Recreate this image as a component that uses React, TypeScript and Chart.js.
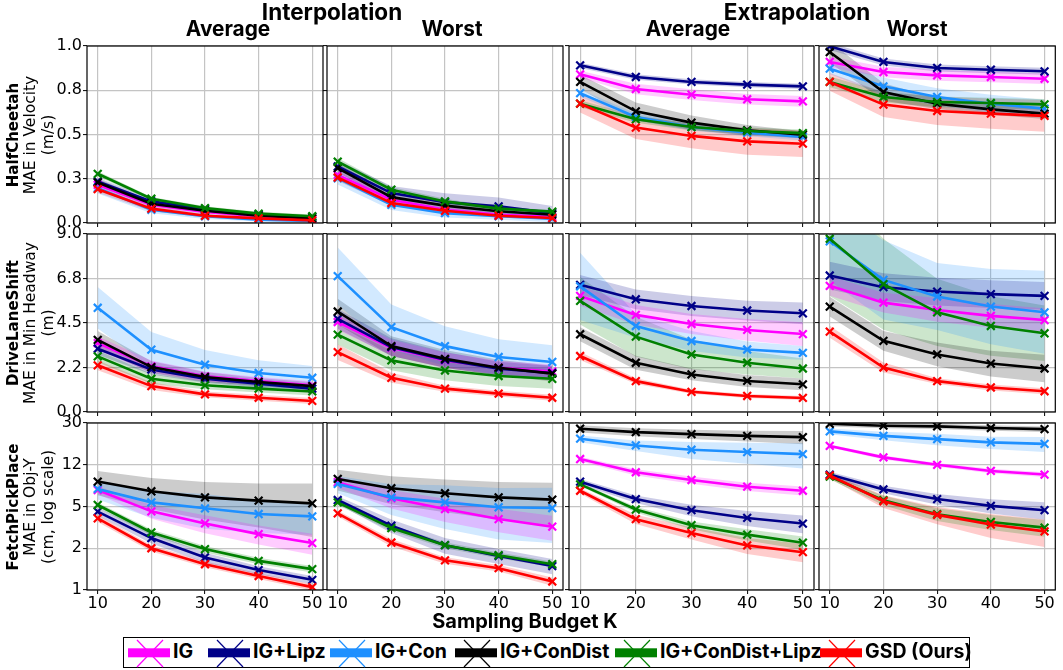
import React, { useEffect, useRef } from "react";
import { Chart, registerables } from "chart.js";

Chart.register(...registerables);

const PAGE_W = 1063;
const PAGE_H = 670;

// ---------- categories / series ----------
const K_VALUES = [10, 20, 30, 40, 50];
const X_TICKS = [10, 20, 30, 40, 50];
const SERIES_NAMES = ["IG", "IG+Lipz", "IG+Con", "IG+ConDist", "IG+ConDist+Lipz", "GSD (Ours)"];
const SERIES_COLORS = ["#ff00ff", "#000088", "#1e90ff", "#000000", "#008000", "#ff0000"];

// ---------- tick labels ----------
const HC_Y_TICKS = [0, 0.25, 0.5, 0.75, 1.0];
const HC_Y_LABELS = ["0.0", "0.3", "0.5", "0.8", "1.0"];
const DLS_Y_TICKS = [0, 2.25, 4.5, 6.75, 9.0];
const DLS_Y_LABELS = ["0.0", "2.2", "4.5", "6.8", "9.0"];
const FPP_Y_TICKS = [1, 2.34, 5.48, 12.82, 30];
const FPP_Y_LABELS = ["1", "2", "5", "12", "30"];

// ---------- HalfCheetah (MAE in velocity) ----------
// series order: IG, IG+Lipz, IG+Con, IG+ConDist, IG+ConDist+Lipz, GSD
const hcIntAvg = [
  [0.216, 0.103, 0.062, 0.038, 0.022],
  [0.235, 0.122, 0.079, 0.047, 0.034],
  [0.197, 0.075, 0.038, 0.019, 0.011],
  [0.229, 0.109, 0.069, 0.041, 0.026],
  [0.278, 0.137, 0.084, 0.053, 0.038],
  [0.191, 0.081, 0.041, 0.026, 0.015],
];
const hcIntAvgBand = [
  [0.02, 0.015, 0.01, 0.01, 0.01],
  [0.02, 0.015, 0.01, 0.01, 0.01],
  [0.03, 0.02, 0.015, 0.01, 0.01],
  [0.02, 0.015, 0.01, 0.01, 0.01],
  [0.015, 0.01, 0.01, 0.01, 0.01],
  [0.02, 0.015, 0.01, 0.01, 0.01],
];
const hcIntWorst = [
  [0.272, 0.131, 0.075, 0.047, 0.034],
  [0.319, 0.169, 0.118, 0.094, 0.056],
  [0.253, 0.103, 0.056, 0.038, 0.024],
  [0.31, 0.146, 0.098, 0.066, 0.047],
  [0.347, 0.188, 0.122, 0.081, 0.064],
  [0.257, 0.113, 0.069, 0.041, 0.028],
];
const hcIntWorstBand = [
  [0.02, 0.02, 0.015, 0.01, 0.01],
  [0.035, 0.04, 0.05, 0.05, 0.04],
  [0.035, 0.03, 0.025, 0.02, 0.02],
  [0.025, 0.02, 0.02, 0.015, 0.015],
  [0.02, 0.015, 0.015, 0.01, 0.01],
  [0.02, 0.015, 0.01, 0.01, 0.01],
];
const hcExtAvg = [
  [0.84, 0.757, 0.725, 0.699, 0.687],
  [0.891, 0.825, 0.797, 0.782, 0.772],
  [0.734, 0.599, 0.542, 0.51, 0.486],
  [0.797, 0.631, 0.567, 0.524, 0.499],
  [0.674, 0.586, 0.542, 0.52, 0.508],
  [0.674, 0.539, 0.492, 0.461, 0.448],
];
const hcExtAvgBand = [
  [0.02, 0.03, 0.03, 0.03, 0.03],
  [0.015, 0.015, 0.015, 0.015, 0.015],
  [0.02, 0.02, 0.02, 0.02, 0.02],
  [0.04, 0.05, 0.04, 0.03, 0.02],
  [0.02, 0.02, 0.02, 0.02, 0.02],
  [0.05, 0.065, 0.07, 0.075, 0.075],
];
const hcExtWorst = [
  [0.91, 0.853, 0.834, 0.825, 0.815],
  [0.998, 0.91, 0.876, 0.866, 0.857],
  [0.872, 0.772, 0.712, 0.674, 0.646],
  [0.966, 0.74, 0.674, 0.642, 0.618],
  [0.797, 0.712, 0.684, 0.678, 0.67],
  [0.797, 0.669, 0.633, 0.618, 0.605],
];
const hcExtWorstBand = [
  [0.03, 0.03, 0.03, 0.03, 0.03],
  [0.02, 0.02, 0.02, 0.02, 0.02],
  [0.03, 0.05, 0.05, 0.05, 0.05],
  [0.06, 0.05, 0.03, 0.03, 0.03],
  [0.03, 0.03, 0.03, 0.03, 0.03],
  [0.05, 0.07, 0.08, 0.085, 0.09],
];

// ---------- DriveLaneShift (MAE in min headway) ----------
const dlsIntAvg = [
  [3.48, 2.31, 1.8, 1.57, 1.35],
  [3.2, 2.15, 1.68, 1.43, 1.18],
  [5.27, 3.15, 2.39, 1.97, 1.73],
  [3.65, 2.27, 1.77, 1.52, 1.31],
  [2.81, 1.68, 1.35, 1.18, 1.04],
  [2.36, 1.31, 0.89, 0.72, 0.56],
];
const dlsIntAvgBand = [
  [0.35, 0.3, 0.25, 0.2, 0.2],
  [0.3, 0.25, 0.2, 0.2, 0.2],
  [1.05, 0.9, 0.75, 0.65, 0.6],
  [0.45, 0.3, 0.25, 0.2, 0.2],
  [0.3, 0.25, 0.2, 0.2, 0.2],
  [0.25, 0.2, 0.15, 0.15, 0.15],
];
const dlsIntWorst = [
  [4.55, 3.25, 2.61, 2.24, 2.05],
  [4.71, 3.28, 2.64, 2.19, 1.97],
  [6.87, 4.29, 3.33, 2.78, 2.53],
  [5.08, 3.33, 2.69, 2.24, 1.94],
  [3.91, 2.61, 2.1, 1.82, 1.68],
  [3.03, 1.73, 1.18, 0.93, 0.72],
];
const dlsIntWorstBand = [
  [0.4, 0.4, 0.4, 0.35, 0.35],
  [0.5, 0.45, 0.4, 0.35, 0.35],
  [1.45, 1.15, 1.0, 0.9, 0.85],
  [0.65, 0.5, 0.45, 0.4, 0.4],
  [0.5, 0.5, 0.5, 0.5, 0.5],
  [0.4, 0.25, 0.15, 0.15, 0.15],
];
const dlsExtAvg = [
  [5.87, 4.91, 4.45, 4.15, 3.94],
  [6.43, 5.7, 5.36, 5.13, 4.99],
  [6.35, 4.35, 3.59, 3.16, 2.99],
  [3.93, 2.49, 1.9, 1.57, 1.4],
  [5.62, 3.81, 2.91, 2.49, 2.2],
  [2.83, 1.56, 1.02, 0.81, 0.71],
];
const dlsExtAvgBand = [
  [0.5, 0.5, 0.5, 0.55, 0.6],
  [0.5, 0.5, 0.5, 0.5, 0.55],
  [1.7, 0.6, 0.5, 0.4, 0.35],
  [0.35, 0.35, 0.3, 0.3, 0.3],
  [1.2, 1.0, 0.75, 0.6, 0.5],
  [0.2, 0.15, 0.1, 0.1, 0.1],
];
const dlsExtWorst = [
  [6.38, 5.53, 5.16, 4.86, 4.65],
  [6.9, 6.31, 6.09, 5.96, 5.87],
  [8.63, 6.68, 5.84, 5.33, 5.04],
  [5.33, 3.6, 2.91, 2.45, 2.2],
  [8.76, 6.46, 5.04, 4.35, 3.98],
  [4.06, 2.25, 1.56, 1.24, 1.05],
];
const dlsExtWorstBand = [
  [0.5, 0.5, 0.6, 0.6, 0.6],
  [0.7, 0.7, 0.7, 0.7, 0.7],
  [2.0, 2.0, 1.7, 1.9, 2.1],
  [0.5, 0.5, 0.6, 0.65, 0.7],
  [2.9, 2.3, 1.7, 1.5, 1.4],
  [0.3, 0.25, 0.15, 0.15, 0.15],
];

// ---------- FetchPickPlace (MAE in Obj-Y, log scale) ----------
const fppIntAvg = [
  [7.67, 4.96, 3.88, 3.12, 2.6],
  [4.93, 2.88, 1.94, 1.5, 1.23],
  [7.83, 5.96, 5.28, 4.7, 4.48],
  [9.1, 7.47, 6.6, 6.17, 5.84],
  [5.65, 3.23, 2.3, 1.81, 1.53],
  [4.3, 2.34, 1.69, 1.33, 1.06],
];
const fppIntAvgBand = [
  [0.6, 0.7, 0.7, 0.6, 0.55],
  [0.4, 0.3, 0.2, 0.12, 0.1],
  [1.5, 1.6, 1.8, 1.5, 1.4],
  [2.2, 2.3, 2.4, 2.6, 2.9],
  [0.3, 0.2, 0.15, 0.12, 0.1],
  [0.3, 0.15, 0.1, 0.08, 0.07],
];
const fppIntWorst = [
  [8.98, 6.47, 5.2, 4.24, 3.63],
  [6.25, 3.7, 2.49, 2.0, 1.63],
  [8.67, 6.6, 5.96, 5.39, 5.31],
  [9.6, 7.94, 7.17, 6.6, 6.3],
  [5.96, 3.53, 2.49, 2.03, 1.69],
  [4.76, 2.63, 1.83, 1.56, 1.19],
];
const fppIntWorstBand = [
  [1.0, 1.2, 1.2, 1.0, 0.9],
  [0.5, 0.5, 0.4, 0.3, 0.25],
  [1.5, 2.0, 2.5, 2.6, 2.7],
  [2.0, 2.2, 2.3, 2.4, 2.6],
  [0.3, 0.2, 0.15, 0.12, 0.1],
  [0.3, 0.2, 0.12, 0.1, 0.1],
];
const fppExtAvg = [
  [14.4, 11.0, 9.4, 8.2, 7.55],
  [9.08, 6.37, 5.08, 4.34, 3.87],
  [21.8, 19.0, 17.4, 16.6, 15.9],
  [26.7, 24.9, 23.9, 23.1, 22.5],
  [8.6, 5.15, 3.74, 3.09, 2.62],
  [7.55, 4.23, 3.19, 2.48, 2.16],
];
const fppExtAvgBand = [
  [0.7, 0.7, 0.7, 0.7, 0.7],
  [0.5, 0.5, 0.6, 0.65, 0.7],
  [1.5, 2.0, 3.0, 3.5, 4.0],
  [2.0, 2.0, 2.2, 2.5, 3.0],
  [0.3, 0.3, 0.3, 0.35, 0.35],
  [0.4, 0.4, 0.4, 0.4, 0.4],
];
const fppExtWorst = [
  [18.8, 14.9, 12.8, 11.3, 10.5],
  [10.5, 7.76, 6.37, 5.55, 5.08],
  [25.3, 23.1, 21.6, 20.2, 19.6],
  [29.5, 28.4, 28.0, 27.1, 26.5],
  [10.06, 6.23, 4.68, 4.0, 3.56],
  [10.3, 6.1, 4.62, 3.79, 3.3],
];
const fppExtWorstBand = [
  [0.6, 0.6, 0.5, 0.5, 0.5],
  [0.6, 0.6, 0.7, 0.8, 0.9],
  [1.5, 2.0, 2.5, 2.5, 3.0],
  [1.5, 1.5, 1.5, 1.5, 1.5],
  [0.5, 0.6, 0.6, 0.6, 0.6],
  [0.6, 0.8, 0.8, 0.9, 0.9],
];

// ---------- layout ----------
const COL_X = [
  [87, 323],
  [327, 563],
  [569, 814],
  [819, 1062],
];
const ROW_Y = [
  [46, 223],
  [234, 412],
  [423, 590],
];
const Y_AXIS_W = 40;
const X_AXIS_H = 30;

type AxisDef = { type: "linear" | "logarithmic"; min: number; max: number; ticks: number[]; labels: string[] };
const ROW_AXES: AxisDef[] = [
  { type: "linear", min: 0, max: 1, ticks: HC_Y_TICKS, labels: HC_Y_LABELS },
  { type: "linear", min: 0, max: 9, ticks: DLS_Y_TICKS, labels: DLS_Y_LABELS },
  { type: "logarithmic", min: 1, max: 30, ticks: FPP_Y_TICKS, labels: FPP_Y_LABELS },
];

const PANELS = [
  { row: 0, col: 0, means: hcIntAvg, bands: hcIntAvgBand },
  { row: 0, col: 1, means: hcIntWorst, bands: hcIntWorstBand },
  { row: 0, col: 2, means: hcExtAvg, bands: hcExtAvgBand },
  { row: 0, col: 3, means: hcExtWorst, bands: hcExtWorstBand },
  { row: 1, col: 0, means: dlsIntAvg, bands: dlsIntAvgBand },
  { row: 1, col: 1, means: dlsIntWorst, bands: dlsIntWorstBand },
  { row: 1, col: 2, means: dlsExtAvg, bands: dlsExtAvgBand },
  { row: 1, col: 3, means: dlsExtWorst, bands: dlsExtWorstBand },
  { row: 2, col: 0, means: fppIntAvg, bands: fppIntAvgBand },
  { row: 2, col: 1, means: fppIntWorst, bands: fppIntWorstBand },
  { row: 2, col: 2, means: fppExtAvg, bands: fppExtAvgBand },
  { row: 2, col: 3, means: fppExtWorst, bands: fppExtWorstBand },
];

const ROW_LABELS = [
  { bold: "HalfCheetah", l1: "MAE in Velocity", l2: "(m/s)" },
  { bold: "DriveLaneShift", l1: "MAE in Min Headway", l2: "(m)" },
  { bold: "FetchPickPlace", l1: "MAE in Obj-Y", l2: "(cm, log scale)" },
];

const GRID_COLOR = "#c4c4c4";
const TICK_FONT = { family: "'DejaVu Sans', sans-serif", size: 16 };

function hexToRgba(hex: string, a: number) {
  const n = parseInt(hex.slice(1), 16);
  return `rgba(${(n >> 16) & 255},${(n >> 8) & 255},${n & 255},${a})`;
}

const framePlugin = {
  id: "frame",
  afterDatasetsDraw(chart: any) {
    const { ctx, chartArea } = chart;
    const { left, top, right, bottom } = chartArea;
    ctx.save();
    ctx.strokeStyle = "#000";
    ctx.lineWidth = 1.2;
    ctx.strokeRect(left, top, right - left, bottom - top);
    ctx.restore();
  },
};

function Panel({ row, col, means, bands }: { row: number; col: number; means: number[][]; bands: number[][] }) {
  const ref = useRef<HTMLCanvasElement>(null);
  useEffect(() => {
    const canvas = ref.current;
    if (!canvas) return;
    const [L, R] = COL_X[col];
    const [T, B] = ROW_Y[row];
    const axis = ROW_AXES[row];
    const datasets: any[] = [];
    means.forEach((m, s) => {
      const c = SERIES_COLORS[s];
      const b = bands[s];
      datasets.push({
        label: SERIES_NAMES[s] + " upper",
        data: K_VALUES.map((k, i) => ({ x: k, y: m[i] + b[i] })),
        borderColor: "rgba(0,0,0,0)",
        borderWidth: 0,
        pointRadius: 0,
        pointHoverRadius: 0,
        backgroundColor: hexToRgba(c, 0.2),
        fill: "+1",
        order: 100 + s,
        clip: 0,
      });
      datasets.push({
        label: SERIES_NAMES[s] + " lower",
        data: K_VALUES.map((k, i) => ({ x: k, y: Math.max(m[i] - b[i], axis.type === "logarithmic" ? 0.05 : -10) })),
        borderColor: "rgba(0,0,0,0)",
        borderWidth: 0,
        pointRadius: 0,
        pointHoverRadius: 0,
        fill: false,
        order: 100 + s,
        clip: 0,
      });
    });
    means.forEach((m, s) => {
      const c = SERIES_COLORS[s];
      datasets.push({
        label: SERIES_NAMES[s],
        data: K_VALUES.map((k, i) => ({ x: k, y: m[i] })),
        borderColor: c,
        backgroundColor: c,
        borderWidth: 2.6,
        pointStyle: "crossRot",
        pointRadius: 5.5,
        pointBorderWidth: 2.2,
        pointBorderColor: c,
        pointBackgroundColor: c,
        fill: false,
        tension: 0,
        order: 10 - s,
        clip: 0,
      });
    });

    const gridOpts = {
      color: GRID_COLOR,
      lineWidth: 1.2,
      drawTicks: true,
      tickLength: 4,
      tickColor: "#000",
      tickWidth: 1,
    };

    const chart = new Chart(canvas, {
      type: "line",
      data: { datasets },
      plugins: [framePlugin],
      options: {
        responsive: false,
        animation: false,
        devicePixelRatio: 1,
        events: [],
        layout: {
          padding: {
            left: L - Y_AXIS_W,
            right: PAGE_W - R,
            top: T,
            bottom: PAGE_H - B - X_AXIS_H,
          },
        },
        plugins: {
          legend: { display: false },
          tooltip: { enabled: false },
          filler: { drawTime: "beforeDatasetsDraw", propagate: false },
        },
        scales: {
          x: {
            type: "linear",
            min: 8,
            max: 52,
            afterBuildTicks: (s: any) => {
              s.ticks = X_TICKS.map((v) => ({ value: v }));
            },
            afterFit: (s: any) => {
              s.height = X_AXIS_H;
            },
            ticks: {
              display: row === 2,
              color: "#000",
              font: TICK_FONT,
              padding: 0,
              maxRotation: 0,
              autoSkip: false,
              callback: (v: any) => String(v),
            },
            grid: gridOpts,
            border: { display: false },
          },
          y: {
            type: axis.type,
            min: axis.min,
            max: axis.max,
            afterBuildTicks: (s: any) => {
              s.ticks = axis.ticks.map((v) => ({ value: v }));
            },
            afterFit: (s: any) => {
              s.width = Y_AXIS_W;
            },
            ticks: {
              display: col === 0,
              color: "#000",
              font: TICK_FONT,
              padding: 1,
              autoSkip: false,
              callback: (_v: any, i: number) => axis.labels[i],
            },
            grid: gridOpts,
            border: { display: false },
          },
        },
      } as any,
    });
    return () => chart.destroy();
  }, [row, col, means, bands]);
  return (
    <canvas
      ref={ref}
      width={PAGE_W}
      height={PAGE_H}
      style={{ position: "absolute", left: 0, top: 0, width: PAGE_W, height: PAGE_H, pointerEvents: "none" }}
    />
  );
}

const TITLE_FONT = "Inter, 'Liberation Sans', sans-serif";

function Title({ text, cx, top, size }: { text: string; cx: number; top: number; size: number }) {
  return (
    <div
      style={{
        position: "absolute",
        left: cx,
        top,
        transform: "translateX(-50%)",
        fontFamily: TITLE_FONT,
        fontWeight: 700,
        fontSize: size,
        lineHeight: `${size}px`,
        whiteSpace: "nowrap",
        color: "#000",
      }}
    >
      {text}
    </div>
  );
}

function RotLabel({ text, cx, cy, bold, size }: { text: string; cx: number; cy: number; bold?: boolean; size: number }) {
  return (
    <div
      style={{
        position: "absolute",
        left: cx,
        top: cy,
        transform: "translate(-50%, -50%) rotate(-90deg)",
        fontFamily: "'DejaVu Sans', sans-serif",
        fontWeight: bold ? 700 : 400,
        fontSize: size,
        lineHeight: `${size + 2}px`,
        whiteSpace: "nowrap",
        color: "#000",
      }}
    >
      {text}
    </div>
  );
}

const LEGEND_HANDLE_X = [128, 208, 330, 455, 615, 820];
const LEGEND_TEXT_X = [173, 253, 375, 500, 660, 865];

function Legend() {
  const top = 637;
  const h = 31;
  return (
    <>
      <div
        style={{
          position: "absolute",
          left: 123,
          top,
          width: 847,
          height: h,
          border: "1.3px solid #000",
          boxSizing: "border-box",
          background: "#fff",
        }}
      />
      {SERIES_NAMES.map((name, s) => (
        <React.Fragment key={name}>
          <svg
            width={42}
            height={h}
            style={{ position: "absolute", left: LEGEND_HANDLE_X[s], top }}
          >
            <rect x={0} y={11.3} width={42} height={9} fill={SERIES_COLORS[s]} />
            <line x1={9} y1={3} x2={35} y2={30} stroke={SERIES_COLORS[s]} strokeWidth={1.2} />
            <line x1={35} y1={3} x2={9} y2={30} stroke={SERIES_COLORS[s]} strokeWidth={1.2} />
          </svg>
          <div
            style={{
              position: "absolute",
              left: LEGEND_TEXT_X[s],
              top: 642.3,
              fontFamily: TITLE_FONT,
              fontWeight: 700,
              fontSize: 19.5,
              lineHeight: "19.5px",
              whiteSpace: "nowrap",
              color: "#000",
            }}
          >
            {name}
          </div>
        </React.Fragment>
      ))}
    </>
  );
}

export default function App() {
  return (
    <div
      style={{
        position: "absolute",
        left: 0,
        top: 0,
        width: PAGE_W,
        height: PAGE_H,
        background: "#fff",
        overflow: "hidden",
      }}
    >
      {PANELS.map((p) => (
        <Panel key={`${p.row}-${p.col}`} row={p.row} col={p.col} means={p.means} bands={p.bands} />
      ))}
      <Title text="Interpolation" cx={332} top={1.1} size={22.5} />
      <Title text="Extrapolation" cx={797} top={1.1} size={22.5} />
      <Title text="Average" cx={228} top={18.5} size={20.8} />
      <Title text="Worst" cx={452} top={18.5} size={20.8} />
      <Title text="Average" cx={688} top={18.5} size={20.8} />
      <Title text="Worst" cx={917} top={18.5} size={20.8} />
      {ROW_LABELS.map((r, i) => {
        const cy = (ROW_Y[i][0] + ROW_Y[i][1]) / 2;
        return (
          <React.Fragment key={r.bold}>
            <RotLabel text={r.bold} cx={13} cy={cy} bold size={15} />
            <RotLabel text={r.l1} cx={31} cy={cy} size={15.5} />
            <RotLabel text={r.l2} cx={49} cy={cy} size={15.5} />
          </React.Fragment>
        );
      })}
      <Title text="Sampling Budget K" cx={525} top={610.7} size={20} />
      <Legend />
    </div>
  );
}
